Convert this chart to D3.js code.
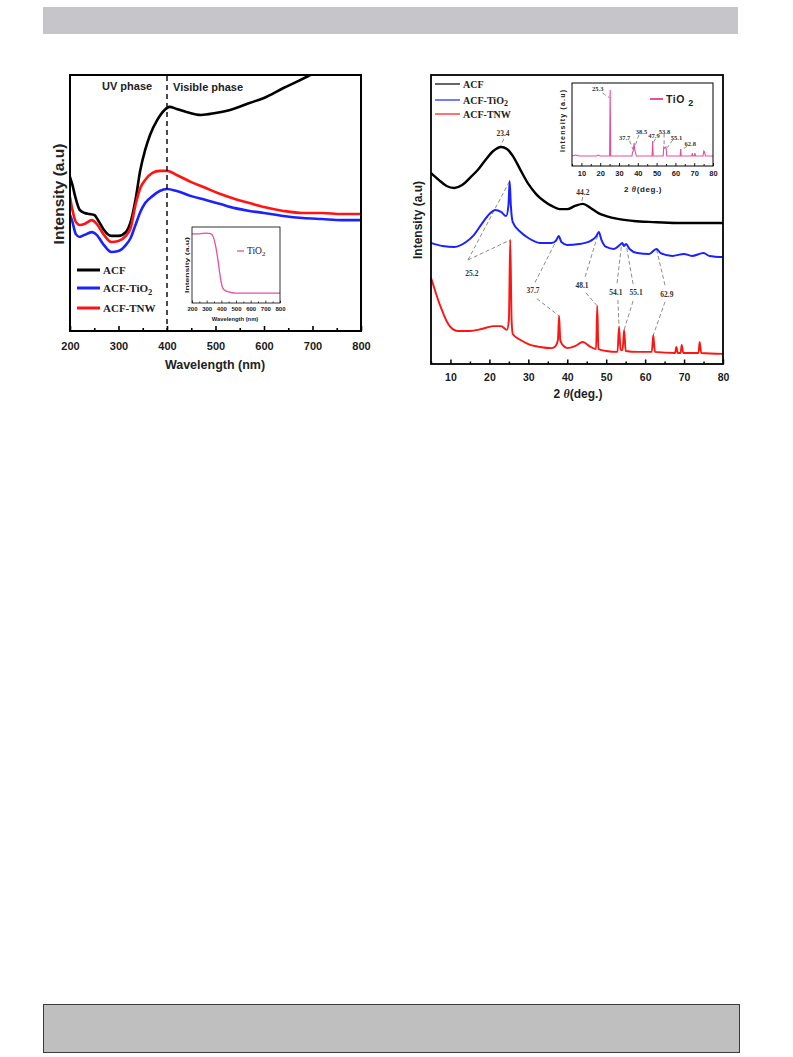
<!DOCTYPE html>
<html>
<head>
<meta charset="utf-8">
<script src="https://cdn.jsdelivr.net/npm/d3@7"></script>
<style>
  body { margin: 0; background: #fff; }
</style>
</head>
<body>
<div id="page"></div>
<script>
// ---------- UV-vis (left panel), [wavelength nm, intensity a.u.]
const uvAcf = [[200,60.0],[205,56.9],[210,52.9],[220,47.1],[230,45.9],[240,45.5],[250,45.1],[260,42.4],
  [270,39.2],[285,36.9],[300,36.9],[315,38.4],[325,42.4],[335,51.0],[345,62.7],[355,70.6],[365,76.5],
  [380,82.4],[395,86.3],[405,87.5],[420,86.7],[440,85.5],[470,84.3],[500,85.1],[530,86.3],[570,89.0],
  [600,91.0],[640,94.9],[670,97.6],[695,100],[720,102.7]];
const uvTio2 = [[200,45.1],[205,42.4],[212,37.6],[220,36.5],[230,37.3],[245,38.4],[255,37.3],[270,33.3],
  [285,30.6],[300,31.0],[315,33.3],[325,36.1],[335,41.2],[345,46.3],[355,49.8],[370,52.5],[385,54.5],
  [400,55.3],[420,54.5],[450,52.5],[480,51.0],[510,49.4],[540,47.8],[570,46.7],[600,45.9],[640,44.7],
  [680,43.9],[720,43.5],[760,43.1],[800,43.1]];
const uvTnw = [[200,52.2],[205,47.1],[212,42.4],[220,41.2],[230,41.6],[245,43.1],[255,41.6],[270,37.3],
  [285,34.5],[300,34.9],[315,36.9],[325,40.0],[335,49.0],[345,55.7],[355,58.8],[370,61.6],[385,62.4],
  [400,62.4],[420,60.8],[450,58.0],[480,55.7],[510,53.3],[540,51.4],[570,49.8],[600,48.2],[640,46.7],
  [680,45.9],[720,45.9],[760,45.5],[800,45.5]];
// inset: pure TiO2
const uvInsetTio2 = [[200,0.91],[250,0.91],[300,0.92],[330,0.91],[345,0.87],[360,0.76],[375,0.59],
  [390,0.38],[405,0.22],[420,0.17],[450,0.145],[500,0.13],[600,0.13],[700,0.13],[800,0.13]];
const uvTicks = [200,300,400,500,600,700,800];
const uvMinor = [250,350,450,550,650,750];
const uvSeries = ["ACF","ACF-TiO2","ACF-TNW"];

// ---------- XRD (right panel), [2theta deg, intensity a.u.]
const xrdAcf = [[5,66.1],[7,63.7],[9,61.6],[11,60.9],[13,61.9],[15,64.4],[17,67.1],[19,70.6],[21,73.7],
  [23,75.1],[24.5,74.4],[26,72.0],[28,67.1],[30,62.3],[32,58.8],[34,56.4],[36,54.7],[38,53.6],[40,53.6],
  [42,54.7],[44,55.4],[46,54.0],[48,52.2],[50,51.2],[53,50.2],[57,49.5],[62,49.1],[68,48.8],[74,48.8],[80,48.8]];
const xrdTio2 = [[5,41.9],[8,40.8],[11,40.5],[14,42.2],[16,44.6],[18,48.4],[20,51.9],[21.5,53.3],[23,52.6],
  [24.3,51.2],[24.9,55.0],[25.2,63.3],[25.5,55.0],[26,49.1],[28,45.7],[30,43.6],[33,41.9],[36,41.9],
  [37.2,42.9],[37.8,44.3],[38.5,42.2],[40,41.2],[43,41.5],[46,42.6],[47.5,44.3],[48.1,45.7],[48.8,42.9],
  [50,40.5],[52,39.8],[53.5,41.2],[54.1,41.9],[54.6,40.8],[55.1,41.5],[56,39.8],[58,38.4],[61,38.1],
  [62.9,39.8],[64,38.4],[67,37.4],[70,38.1],[72,37.4],[75,38.4],[76.5,37.4],[80,37.0]];
const xrdTnw = [[5,29.8],[6,25.6],[7,21.5],[8,18.0],[9,14.9],[10,12.8],[12,11.4],[15,11.4],[18,12.1],
  [21,13.1],[23,13.1],[24.5,11.8],[25.0,15.2],[25.35,42.9],[25.7,15.2],[26,10.4],[28,8.3],[30,6.9],[33,5.9],
  [36,5.5],[37.0,6.2],[37.6,8.3],[37.9,16.6],[38.2,8.3],[38.8,6.6],[40,5.5],[42,6.2],[44,7.6],[46,5.9],
  [47.4,5.2],[47.7,20.1],[48.0,5.2],[50,4.5],[52.9,4.2],[53.3,12.8],[53.7,4.8],[54.2,4.8],[54.6,11.8],
  [55.0,4.5],[58,4.2],[61.7,4.2],[62.1,10.0],[62.5,4.2],[67.7,3.8],[68.0,5.9],[68.4,3.8],[69.1,3.8],
  [69.4,6.6],[69.8,3.8],[73.7,3.8],[74.0,7.6],[74.4,3.8],[80,3.5]];
const xrdInsetTio2 = [[5,1.4],[7,2.7],[9,1.4],[18,1.4],[19,2.7],[20,1.4],[25.0,1.4],[25.3,90.5],[25.6,1.4],
  [27,1.4],[36.9,1.4],[37.2,6.8],[37.6,8.1],[38.0,18.9],[38.4,9.5],[38.7,6.8],[39.2,1.4],[47.6,1.4],
  [47.9,21.6],[48.2,1.4],[53.5,1.4],[53.8,13.5],[54.3,12.2],[55.0,13.5],[55.4,1.4],[62.5,1.4],[62.8,10.8],
  [63.1,1.4],[68.7,1.4],[69.0,5.4],[69.3,1.4],[70.1,1.4],[70.4,5.4],[70.7,1.4],[74.7,1.4],[75.1,8.1],
  [75.5,6.8],[75.9,1.4],[80,1.4]];
const xrdTicks = [10,20,30,40,50,60,70,80];
const xrdMinor = [5,15,25,35,45,55,65,75];
// peak labels: text, label anchor [2theta, a.u.], leader lines [[from],[to]]
const xrdLabels = [
  { t: "23.4", at: [23.5, 79.6], lines: [[[23.7, 77.9], [22.9, 75.6]]] },
  { t: "44.2", at: [44.0, 59.2], lines: [[[44.0, 57.8], [43.6, 55.6]]] },
  { t: "25.2", at: [15.5, 31.2], lines: [[[14.5, 36.0], [25.2, 63.3]], [[14.5, 36.0], [25.35, 42.9]]] },
  { t: "37.7", at: [31.2, 25.3], lines: [[[31.7, 28.2], [37.8, 44.3]], [[32.2, 22.6], [37.9, 16.6]]] },
  { t: "48.1", at: [43.8, 27.3], lines: [[[44.6, 30.2], [48.1, 45.7]], [[44.8, 24.6], [47.7, 20.1]]] },
  { t: "54.1", at: [52.5, 24.9], lines: [[[52.8, 28.0], [54.0, 41.9]], [[53.0, 22.1], [53.3, 12.8]]] },
  { t: "55.1", at: [57.7, 24.6], lines: [[[56.9, 27.7], [55.1, 41.5]], [[56.9, 21.8], [54.6, 11.8]]] },
  { t: "62.9", at: [65.6, 24.2], lines: [[[65.1, 27.3], [62.9, 39.8]], [[65.1, 21.5], [62.1, 10.0]]] }
];
const xrdInsetLabels = [
  { t: "25.3", at: [18.7, 91.9], lines: [[[21.2, 86.5], [25.0, 80.0]]] },
  { t: "37.7", at: [33.0, 27.0], lines: [[[35.6, 22.0], [37.6, 9.5]]] },
  { t: "38.5", at: [42.0, 35.1], lines: [[[40.6, 30.0], [38.2, 12.0]]] },
  { t: "47.9", at: [48.6, 28.4], lines: [[[49.4, 24.5], [48.2, 19.0]]] },
  { t: "53.8", at: [54.2, 35.1], lines: [[[54.0, 31.5], [54.0, 15.0]]] },
  { t: "55.1", at: [60.6, 27.0], lines: [[[58.6, 23.0], [55.8, 13.0]]] },
  { t: "62.8", at: [67.9, 17.6], lines: [[[66.2, 14.5], [63.2, 9.0]]] }
];

const BLACK = "#000", BLUE = "#1c22ff", RED = "#ff1414", PINK = "#e5509c";
const SANS = "'Liberation Sans',Arial,sans-serif";
const SERIF = "'Liberation Serif','Times New Roman',serif";

const svg = d3.select("#page").append("svg").attr("width", 793).attr("height", 1057)
  .attr("font-family", SANS);

// page header / footer bars
svg.append("rect").attr("x", 43).attr("y", 7).attr("width", 695).attr("height", 27).attr("fill", "#c6c6ca");
svg.append("rect").attr("x", 43.5).attr("y", 1004.5).attr("width", 696).attr("height", 48)
  .attr("fill", "#bfbfbf").attr("stroke", "#3a3a3a");

function bottomTicks(g, x, y0, major, minor, o) {
  const mi = g.append("g").attr("transform", "translate(0," + y0 + ")")
    .call(d3.axisBottom(x).tickValues(minor).tickSize(-o.minorLen).tickFormat(""));
  const ma = g.append("g").attr("transform", "translate(0," + y0 + ")")
    .call(d3.axisBottom(x).tickValues(major).tickSize(-o.len).tickPadding(o.pad));
  [mi, ma].forEach(function (a) {
    a.select(".domain").remove();
    a.selectAll("line").attr("stroke", "#000").attr("stroke-width", o.sw);
  });
  ma.attr("font-family", SANS);
  ma.selectAll("text").attr("font-size", o.fs).attr("font-weight", "bold").attr("fill", "#1a1a1a");
}

function frame(g, x0, y0, x1, y1, sw) {
  g.append("rect").attr("x", x0).attr("y", y0).attr("width", x1 - x0).attr("height", y1 - y0)
    .attr("fill", "none").attr("stroke", "#000").attr("stroke-width", sw);
}

function subText(sel, main, sub, subSize) {
  sel.append("tspan").text(main);
  sel.append("tspan").text(sub).attr("font-size", subSize).attr("dy", subSize * 0.35);
}

// ================= LEFT: UV-vis =================
const uvX = d3.scaleLinear().domain([200, 800]).range([70, 361]);
const uvY = d3.scaleLinear().domain([0, 100]).range([330, 75]);
const gL = svg.append("g");
gL.append("clipPath").attr("id", "clipL").append("rect")
  .attr("x", 70).attr("y", 75).attr("width", 291).attr("height", 256);

const uvLine = d3.line().x(d => uvX(d[0])).y(d => uvY(d[1])).curve(d3.curveMonotoneX);
[[uvAcf, BLACK], [uvTnw, RED], [uvTio2, BLUE]].forEach(function (s) {
  gL.append("path").datum(s[0]).attr("clip-path", "url(#clipL)")
    .attr("fill", "none").attr("stroke", s[1]).attr("stroke-width", 2.6)
    .attr("stroke-linejoin", "round").attr("d", uvLine);
});

// UV / visible boundary
gL.append("line").attr("x1", uvX(400)).attr("x2", uvX(400)).attr("y1", 76).attr("y2", 331)
  .attr("stroke", "#111").attr("stroke-width", 1.5).attr("stroke-dasharray", "5,4");

gL.append("text").attr("x", 102).attr("y", 90).attr("font-size", 11).attr("font-weight", "bold")
  .attr("fill", "#222").text("UV phase");
gL.append("text").attr("x", 173).attr("y", 91).attr("font-size", 11).attr("font-weight", "bold")
  .attr("fill", "#222").text("Visible phase");

bottomTicks(gL, uvX, 331, uvTicks, uvMinor, { len: 5, minorLen: 3, pad: 11, fs: 11, sw: 1.6 });
frame(gL, 70, 75, 361, 331, 2);

gL.append("text").attr("x", 215).attr("y", 369).attr("text-anchor", "middle")
  .attr("font-size", 12.5).attr("font-weight", "bold").attr("fill", "#222").text("Wavelength (nm)");
gL.append("text").attr("transform", "translate(58,194) rotate(-90)").attr("text-anchor", "middle")
  .attr("dominant-baseline", "central").attr("font-size", 15.5).attr("font-weight", "bold")
  .attr("fill", "#222").text("Intensity (a.u)");

// legend
const uvLegY = [270, 288, 308];
[BLACK, BLUE, RED].forEach(function (c, i) {
  gL.append("line").attr("x1", 77).attr("x2", 100).attr("y1", uvLegY[i]).attr("y2", uvLegY[i])
    .attr("stroke", c).attr("stroke-width", 3);
  const t = gL.append("text").attr("x", 103).attr("y", uvLegY[i] + 4).attr("font-family", SERIF)
    .attr("font-size", 11).attr("font-weight", "bold").attr("fill", "#222");
  if (uvSeries[i] === "ACF-TiO2") subText(t, "ACF-TiO", "2", 8.5); else t.text(uvSeries[i]);
});

// inset
const inX = d3.scaleLinear().domain([200, 800]).range([192, 280]);
const inY = d3.scaleLinear().domain([0, 1]).range([303, 227]);
gL.append("rect").attr("x", 192).attr("y", 227).attr("width", 88).attr("height", 76).attr("fill", "#fff");
gL.append("path").datum(uvInsetTio2).attr("fill", "none").attr("stroke", PINK).attr("stroke-width", 1.3)
  .attr("d", d3.line().x(d => inX(d[0])).y(d => inY(d[1])).curve(d3.curveMonotoneX));
bottomTicks(gL, inX, 303, uvTicks, uvMinor, { len: 2.5, minorLen: 1.5, pad: 3.5, fs: 6, sw: 0.7 });
frame(gL, 192, 227, 280, 303, 0.8);
gL.append("text").attr("x", 235).attr("y", 321).attr("text-anchor", "middle").attr("font-size", 5.8)
  .attr("font-weight", "bold").attr("fill", "#222").text("Wavelength (nm)");
gL.append("text").attr("transform", "translate(186,265) rotate(-90)").attr("text-anchor", "middle")
  .attr("dominant-baseline", "central").attr("font-size", 6.2).attr("font-weight", "bold")
  .attr("textLength", 56).attr("lengthAdjust", "spacingAndGlyphs").attr("fill", "#222").text("Intensity (a.u)");
gL.append("line").attr("x1", 237).attr("x2", 244).attr("y1", 251).attr("y2", 251)
  .attr("stroke", PINK).attr("stroke-width", 1.3);
subText(gL.append("text").attr("x", 247).attr("y", 254).attr("font-family", SERIF).attr("font-size", 9.5)
  .attr("fill", "#222"), "TiO", "2", 7);

// ================= RIGHT: XRD =================
const xX = d3.scaleLinear().domain([5, 80]).range([431, 723]);
const xY = d3.scaleLinear().domain([0, 100]).range([364, 75]);
const gR = svg.append("g");
const xLine = d3.line().x(d => xX(d[0])).y(d => xY(d[1])).curve(d3.curveMonotoneX);

// leaders first (under curves)
const leader = function (g, sx, sy, lines) {
  lines.forEach(function (l) {
    g.append("line").attr("x1", sx(l[0][0])).attr("y1", sy(l[0][1]))
      .attr("x2", sx(l[1][0])).attr("y2", sy(l[1][1]))
      .attr("stroke", "#6e6e6e").attr("stroke-width", 0.8).attr("stroke-dasharray", "4,2.5");
  });
};
xrdLabels.forEach(d => leader(gR, xX, xY, d.lines));

[[xrdAcf, BLACK, 2.4], [xrdTio2, BLUE, 2.0], [xrdTnw, RED, 1.9]].forEach(function (s) {
  gR.append("path").datum(s[0]).attr("fill", "none").attr("stroke", s[1]).attr("stroke-width", s[2])
    .attr("stroke-linejoin", "round").attr("d", xLine);
});

xrdLabels.forEach(function (d) {
  gR.append("text").attr("x", xX(d.at[0])).attr("y", xY(d.at[1])).attr("text-anchor", "middle")
    .attr("dominant-baseline", "central").attr("font-family", SERIF).attr("font-size", 7.5)
    .attr("font-weight", "bold").attr("fill", "#333").text(d.t);
});

bottomTicks(gR, xX, 364, xrdTicks, xrdMinor, { len: 4.5, minorLen: 2.5, pad: 10, fs: 10.5, sw: 1.5 });
frame(gR, 431, 75, 723, 364, 1.8);

const tR = gR.append("text").attr("x", 578).attr("y", 398).attr("text-anchor", "middle")
  .attr("font-size", 12).attr("font-weight", "bold").attr("fill", "#222");
tR.append("tspan").text("2 ");
tR.append("tspan").text("θ").attr("font-style", "italic").attr("font-family", SERIF);
tR.append("tspan").text("(deg.)");
gR.append("text").attr("transform", "translate(418,220) rotate(-90)").attr("text-anchor", "middle")
  .attr("dominant-baseline", "central").attr("font-size", 12).attr("font-weight", "bold")
  .attr("fill", "#222").text("Intensity (a.u)");

const xrdLegY = [84, 100, 114];
[BLACK, BLUE, RED].forEach(function (c, i) {
  gR.append("line").attr("x1", 435).attr("x2", 460).attr("y1", xrdLegY[i]).attr("y2", xrdLegY[i])
    .attr("stroke", c).attr("stroke-width", 1.2);
  const t = gR.append("text").attr("x", 463).attr("y", xrdLegY[i] + 3.5).attr("font-family", SERIF)
    .attr("font-size", 10).attr("font-weight", "bold").attr("fill", "#222");
  if (uvSeries[i] === "ACF-TiO2") subText(t, "ACF-TiO", "2", 8); else t.text(uvSeries[i]);
});

// XRD inset
const ixX = d3.scaleLinear().domain([5, 80]).range([572, 713]);
const ixY = d3.scaleLinear().domain([0, 100]).range([157, 83]);
gR.append("rect").attr("x", 572).attr("y", 83).attr("width", 141).attr("height", 83).attr("fill", "#fff");
xrdInsetLabels.forEach(d => leader(gR, ixX, ixY, d.lines));
gR.append("path").datum(xrdInsetTio2).attr("fill", "none").attr("stroke", PINK).attr("stroke-width", 1.1)
  .attr("d", d3.line().x(d => ixX(d[0])).y(d => ixY(d[1])));
xrdInsetLabels.forEach(function (d) {
  gR.append("text").attr("x", ixX(d.at[0])).attr("y", ixY(d.at[1])).attr("text-anchor", "middle")
    .attr("dominant-baseline", "central").attr("font-family", SERIF).attr("font-size", 6.5)
    .attr("font-weight", "bold").attr("fill", "#333").text(d.t);
});
bottomTicks(gR, ixX, 166, xrdTicks, xrdMinor, { len: 3, minorLen: 2, pad: 5, fs: 7.5, sw: 0.9 });
frame(gR, 572, 83, 713, 166, 1);
const tI = gR.append("text").attr("x", 643).attr("y", 192).attr("text-anchor", "middle")
  .attr("font-size", 8).attr("font-weight", "bold").attr("fill", "#222").attr("letter-spacing", 0.6);
tI.append("tspan").text("2 ");
tI.append("tspan").text("θ").attr("font-style", "italic").attr("font-family", SERIF);
tI.append("tspan").text("(deg.)");
gR.append("text").attr("transform", "translate(562,121) rotate(-90)").attr("text-anchor", "middle")
  .attr("dominant-baseline", "central").attr("font-size", 7).attr("font-weight", "bold")
  .attr("textLength", 62).attr("lengthAdjust", "spacing").attr("fill", "#222").text("Intensity (a.u)");
gR.append("line").attr("x1", 650).attr("x2", 663).attr("y1", 99).attr("y2", 99)
  .attr("stroke", PINK).attr("stroke-width", 2);
subText(gR.append("text").attr("x", 666).attr("y", 103).attr("font-size", 10.5).attr("font-weight", "bold")
  .attr("fill", "#222").attr("letter-spacing", 0.5), "TiO ", "2", 9);
</script>
</body>
</html>
